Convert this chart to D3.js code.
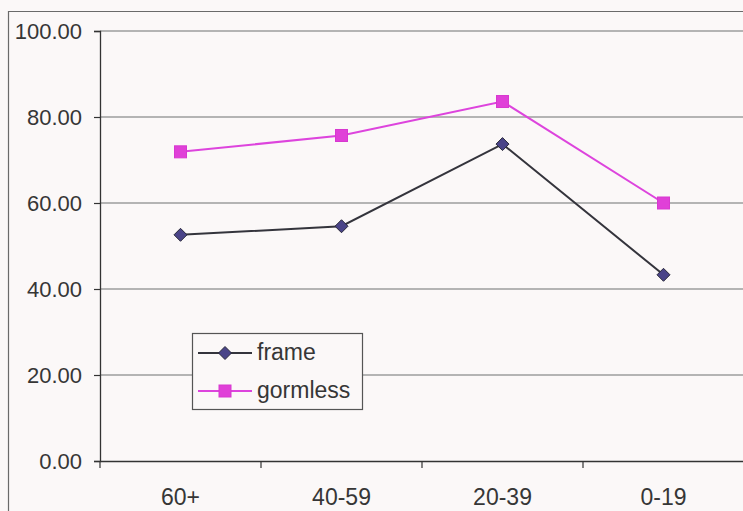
<!DOCTYPE html>
<html>
<head>
<meta charset="utf-8">
<script src="https://cdn.jsdelivr.net/npm/d3@7"></script>
<style>
  body { margin: 0; background: #fbf8f8; }
  svg { display: block; font-family: "Liberation Sans", Arial, sans-serif; }
</style>
</head>
<body>
<div id="chart"></div>
<script>
// age groups on the x axis
const categories = ['60+', '40-59', '20-39', '0-19'];
const frame = [52.6, 54.6, 73.7, 43.3];
const gormless = [71.9, 75.7, 83.6, 60.0];
const yTicks = [0, 20, 40, 60, 80, 100];

const W = 743, H = 511;
const margin = { top: 31, left: 100 };
const plotW = 644, plotH = 430;

const svg = d3.select('#chart')
  .append('svg')
  .attr('width', W)
  .attr('height', H);

svg.append('rect')
  .attr('width', W).attr('height', H)
  .attr('fill', '#fbf8f8');

// outer chart border (cropped on right and bottom)
svg.append('path')
  .attr('d', 'M8.5,' + H + 'V11.5H' + W)
  .attr('fill', 'none')
  .attr('stroke', '#6a6a6a')
  .attr('stroke-width', 1.2);

const g = svg.append('g')
  .attr('transform', 'translate(' + margin.left + ',' + margin.top + ')');

const x = d3.scaleBand()
  .domain(categories)
  .range([0, plotW]);

const y = d3.scaleLinear()
  .domain([0, 100])
  .range([plotH, 0]);

// gridlines
g.selectAll('.grid')
  .data(yTicks.filter(d => d > 0))
  .enter()
  .append('line')
  .attr('x1', 0)
  .attr('x2', plotW)
  .attr('y1', d => y(d))
  .attr('y2', d => y(d))
  .attr('stroke', '#6f7070')
  .attr('stroke-width', 1.2);

// Y axis
const yAxis = g.append('g')
  .call(d3.axisLeft(y).tickValues(yTicks).tickSize(6).tickPadding(12).tickFormat(d3.format('.2f')));
yAxis.select('.domain').attr('stroke', '#333').attr('stroke-width', 1.3);
yAxis.selectAll('.tick line').attr('stroke', '#333').attr('stroke-width', 1.2);
yAxis.selectAll('text')
  .attr('font-size', 22)
  .attr('fill', '#363636')
  .attr('font-family', '"Liberation Sans", Arial, sans-serif');

// X axis
const xAxis = g.append('g')
  .attr('transform', 'translate(0,' + plotH + ')')
  .call(d3.axisBottom(x).tickSize(0).tickPadding(28));
xAxis.select('.domain').attr('stroke', '#333').attr('stroke-width', 1.3);
xAxis.selectAll('text')
  .attr('font-size', 23)
  .attr('fill', '#363636')
  .attr('font-family', '"Liberation Sans", Arial, sans-serif');

// tick marks between categories
g.selectAll('.xtick')
  .data(categories)
  .enter()
  .append('line')
  .attr('x1', d => x(d))
  .attr('x2', d => x(d))
  .attr('y1', plotH)
  .attr('y2', plotH + 7)
  .attr('stroke', '#333')
  .attr('stroke-width', 1.2);

const cx = d => x(d) + x.bandwidth() / 2;

const series = [
  { name: 'frame', values: frame, line: '#34343c', fill: '#4a4488', marker: 'diamond' },
  { name: 'gormless', values: gormless, line: '#dd44dd', fill: '#e040d8', marker: 'square' }
];

const line = d3.line()
  .x(d => cx(d.cat))
  .y(d => y(d.v));

function drawMarker(sel, s) {
  if (s.marker === 'diamond') {
    sel.append('path')
      .attr('d', 'M0,-6.5L6.5,0L0,6.5L-6.5,0Z')
      .attr('fill', s.fill)
      .attr('stroke', '#2a2a3a')
      .attr('stroke-width', 1);
  } else {
    sel.append('rect')
      .attr('x', -6).attr('y', -6)
      .attr('width', 12).attr('height', 12)
      .attr('fill', s.fill)
      .attr('stroke', '#d838d0')
      .attr('stroke-width', 1);
  }
}

series.forEach(s => {
  const pts = categories.map((c, i) => ({ cat: c, v: s.values[i] }));
  g.append('path')
    .datum(pts)
    .attr('d', line)
    .attr('fill', 'none')
    .attr('stroke', s.line)
    .attr('stroke-width', 2);
  pts.forEach(p => {
    const m = g.append('g').attr('transform', 'translate(' + cx(p.cat) + ',' + y(p.v) + ')');
    drawMarker(m, s);
  });
});

// legend
const legend = svg.append('g').attr('transform', 'translate(192,333)');
legend.append('rect')
  .attr('x', 0.5).attr('y', 0.5)
  .attr('width', 170).attr('height', 76)
  .attr('fill', '#fbf8f8')
  .attr('stroke', '#555')
  .attr('stroke-width', 1.2);

series.forEach((s, i) => {
  const ly = 20 + i * 38;
  const row = legend.append('g').attr('transform', 'translate(0,' + ly + ')');
  row.append('line')
    .attr('x1', 6).attr('x2', 60)
    .attr('stroke', s.line)
    .attr('stroke-width', 2);
  drawMarker(row.append('g').attr('transform', 'translate(33,0)'), s);
  row.append('text')
    .attr('x', 65)
    .attr('y', 7)
    .attr('font-size', 23)
    .attr('fill', '#363636')
    .text(s.name);
});
</script>
</body>
</html>
